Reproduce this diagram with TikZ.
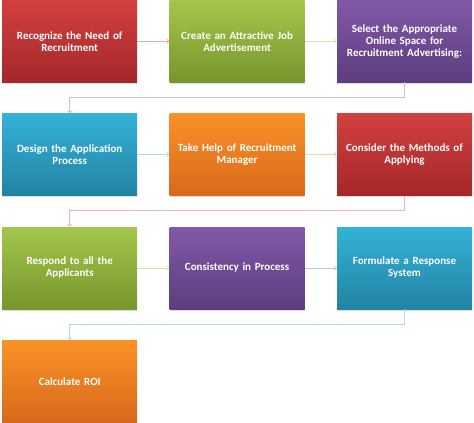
\documentclass[tikz,border=0pt]{standalone}
\usepackage{fontspec}
\setmainfont{Carlito}
\usetikzlibrary{arrows,positioning,shadows}

\definecolor{redtop}{HTML}{D3403F}
\definecolor{redbot}{HTML}{A4272A}
\definecolor{greentop}{HTML}{A5C64B}
\definecolor{greenbot}{HTML}{76962E}
\definecolor{purptop}{HTML}{8159A8}
\definecolor{purpbot}{HTML}{5C3D7E}
\definecolor{bluetop}{HTML}{34B2D8}
\definecolor{bluebot}{HTML}{2283A2}
\definecolor{orantop}{HTML}{F99227}
\definecolor{oranbot}{HTML}{D9691B}

\begin{document}
\begin{tikzpicture}[>=to, node distance=31pt and 32pt,
  box/.style={minimum width=135pt, minimum height=82pt, inner sep=2pt, text width=131pt, align=center,
    text=white, font=\bfseries\fontsize{11}{12}\selectfont,
    drop shadow={shadow xshift=0pt, shadow yshift=-1.5pt, opacity=0.25}},
  redbox/.style={box, top color=redtop, bottom color=redbot},
  greenbox/.style={box, top color=greentop, bottom color=greenbot},
  purpbox/.style={box, top color=purptop, bottom color=purpbot},
  bluebox/.style={box, top color=bluetop, bottom color=bluebot},
  oranbox/.style={box, top color=orantop, bottom color=oranbot},
  link/.style={->, line width=0.9pt}]
\useasboundingbox (0,0) rectangle (474pt,-423pt);
% first row
\node[redbox, anchor=north west] (need) at (2pt,0pt) {Recognize the Need of\\Recruitment};
\node[greenbox, right=of need] (advert) {Create an Attractive Job\\Advertisement};
\node[purpbox, right=of advert] (online) {Select the Appropriate\\Online Space for\\Recruitment Advertising:};
% second row
\node[bluebox, below=of need] (design) {Design the Application\\Process};
\node[oranbox, right=of design] (manager) {Take Help of Recruitment\\Manager};
\node[redbox, right=of manager] (methods) {Consider the Methods of\\Applying};
% third row
\node[greenbox, below=of design] (respond) {Respond to all the\\Applicants};
\node[purpbox, right=of respond] (consist) {Consistency in Process};
\node[bluebox, right=of consist] (formulate) {Formulate a Response\\System};
% last row
\node[oranbox, below=of respond] (roi) {Calculate ROI};

\draw[link, redtop!45] (need) -- (advert);
\draw[link, greentop!45] (advert) -- (online);
\draw[link, purptop!40] (online.south) -- ++(0,-15pt) -| (design.north);
\draw[link, bluetop!45] (design) -- (manager);
\draw[link, orantop!45] (manager) -- (methods);
\draw[link, redtop!40] (methods.south) -- ++(0,-15pt) -| (respond.north);
\draw[link, greentop!45] (respond) -- (consist);
\draw[link, purptop!40] (consist) -- (formulate);
\draw[link, bluetop!45] (formulate.south) -- ++(0,-15pt) -| (roi.north);
\end{tikzpicture}
\end{document}
